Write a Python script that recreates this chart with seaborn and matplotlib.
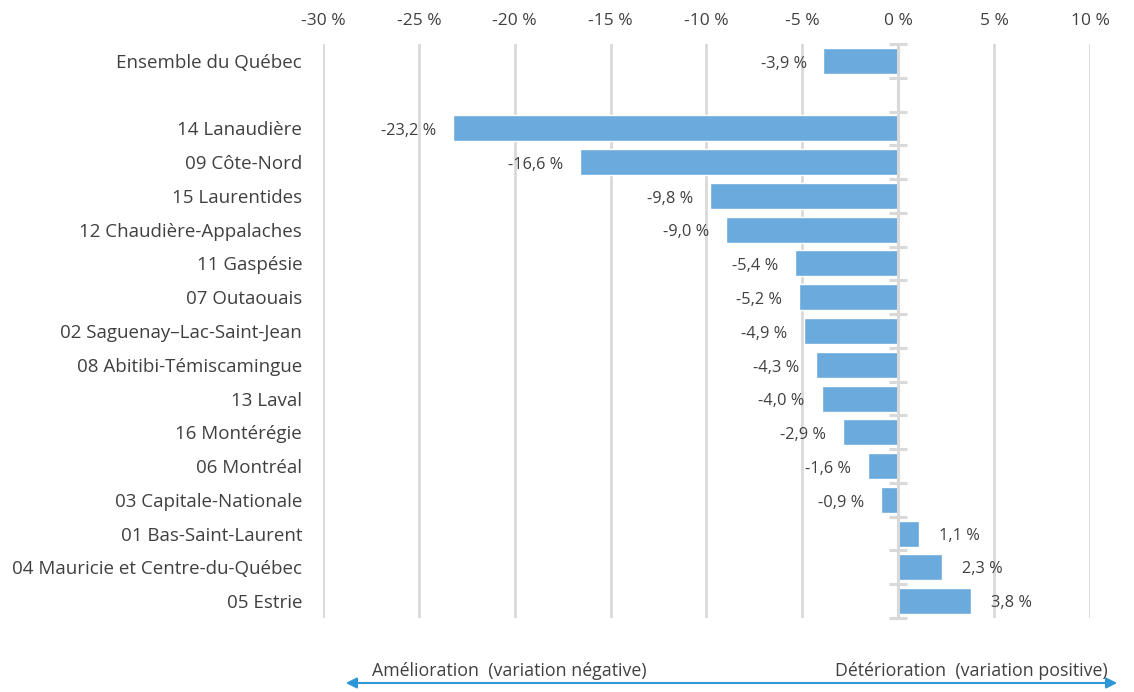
import matplotlib
matplotlib.use("Agg")
import matplotlib.pyplot as plt
import seaborn as sns
import pandas as pd

# Variation par région (en %)
regions = [
    "Ensemble du Québec",
    "14 Lanaudière",
    "09 Côte-Nord",
    "15 Laurentides",
    "12 Chaudière-Appalaches",
    "11 Gaspésie",
    "07 Outaouais",
    "02 Saguenay–Lac-Saint-Jean",
    "08 Abitibi-Témiscamingue",
    "13 Laval",
    "16 Montérégie",
    "06 Montréal",
    "03 Capitale-Nationale",
    "01 Bas-Saint-Laurent",
    "04 Mauricie et Centre-du-Québec",
    "05 Estrie",
]
variations = [-3.9, -23.2, -16.6, -9.8, -9.0, -5.4, -5.2, -4.9, -4.3,
              -4.0, -2.9, -1.6, -0.9, 1.1, 2.3, 3.8]
x_ticks = [-30, -25, -20, -15, -10, -5, 0, 5, 10]
x_tick_labels = ["-30 %", "-25 %", "-20 %", "-15 %", "-10 %", "-5 %", "0 %", "5 %", "10 %"]

# empty row separating the provincial total from the regions
order = [regions[0], " "] + regions[1:]

df = pd.DataFrame({"region": regions, "variation": variations})

sns.set_theme(style="white")
plt.rcParams["font.family"] = ["Open Sans", "DejaVu Sans"]

text_color = "#404040"
grid_color = "#d9d9d9"
bar_color = "#6aaadc"

fig = plt.figure(figsize=(11.34, 6.92), dpi=100)
ax = fig.add_axes([0.2848, 0.1069, 0.9612 - 0.2848, 0.9364 - 0.1069])

sns.barplot(data=df, x="variation", y="region", order=order, orient="h",
            color=bar_color, saturation=1, width=0.77, ax=ax, zorder=3)

ax.set_xlim(-30, 10)
ax.set_ylim(len(order) - 0.5, -0.5)

# vertical gridlines
for t in x_ticks:
    if t != 0:
        ax.axvline(t, color=grid_color, lw=2, zorder=1)

# zero axis with category tick marks
ax.axvline(0, color=grid_color, lw=2.2, zorder=4)
bounds = [i - 0.5 for i in range(len(order) + 1)]
ax.plot([0] * len(bounds), bounds, ls="none", marker="_", markersize=13,
        mew=2.2, color=grid_color, zorder=4, clip_on=False)

ax.xaxis.tick_top()
ax.set_xticks(x_ticks)
ax.set_xticklabels(x_tick_labels, fontsize=12.5, color=text_color)
ax.tick_params(axis="x", length=0, pad=10.5)
ax.tick_params(axis="y", length=0, pad=15)
for lbl in ax.get_yticklabels():
    lbl.set_fontsize(13.5)
    lbl.set_color(text_color)
ax.set_xlabel("")
ax.set_ylabel("")
for s in ax.spines.values():
    s.set_visible(False)

# value labels
for name, v in zip(regions, variations):
    y = order.index(name)
    txt = f"{v:.1f} %".replace(".", ",")
    if v < 0:
        ax.annotate(txt, (v, y), xytext=(-12, -2), textcoords="offset points",
                    ha="right", va="center", fontsize=11.8, color=text_color)
    else:
        ax.annotate(txt, (v, y), xytext=(14, -1.5), textcoords="offset points",
                    ha="left", va="center", fontsize=11.8, color=text_color)

# direction arrow under the chart
arrow_color = "#2f97d8"
fig.patches.append(matplotlib.patches.FancyArrowPatch(
    (343 / 1134, 1 - 683 / 692), (1120 / 1134, 1 - 683 / 692),
    transform=fig.transFigure, arrowstyle="<|-|>", mutation_scale=16,
    color=arrow_color, lw=1.5))
fig.text(372 / 1134, 1 - 671 / 692, "Amélioration  (variation négative)",
         ha="left", va="center", fontsize=12.8, color=text_color)
fig.text(1108 / 1134, 1 - 671 / 692, "Détérioration  (variation positive)",
         ha="right", va="center", fontsize=12.8, color=text_color)

fig.savefig("out.png", dpi=100)
